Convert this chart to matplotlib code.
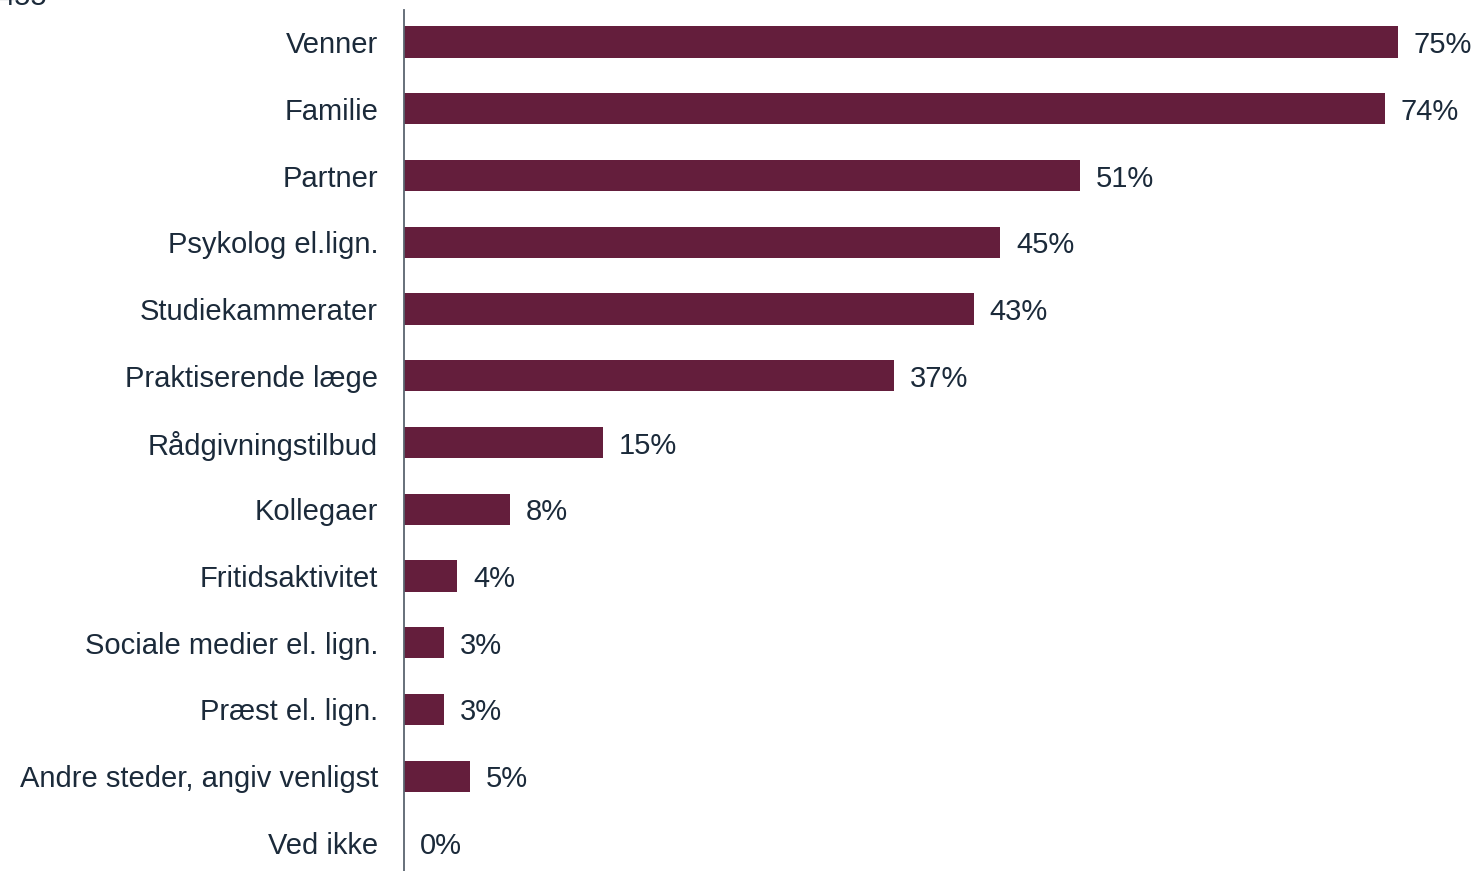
import numpy as np
import matplotlib.pyplot as plt

# data
categories = ["Venner", "Familie", "Partner", "Psykolog el.lign.", "Studiekammerater",
              "Praktiserende læge", "Rådgivningstilbud", "Kollegaer", "Fritidsaktivitet",
              "Sociale medier el. lign.", "Præst el. lign.", "Andre steder, angiv venligst",
              "Ved ikke"]
values = [75, 74, 51, 45, 43, 37, 15, 8, 4, 3, 3, 5, 0]
n_label = "455"

bar_color = "#641e3c"
text_color = "#1b2a3a"

plt.rcParams['font.family'] = ['Liberation Sans', 'DejaVu Sans']

fig = plt.figure(figsize=(14.76, 8.71), dpi=100)
ax = fig.add_axes([404 / 1476, 0.0, 1 - 404 / 1476, 861 / 871])

y = np.arange(len(categories))
ax.barh(y, values, height=0.47, color=bar_color)

# value labels just right of each bar
for yi, v in zip(y, values):
    ax.annotate(f"{v}%", (v, yi), xytext=(11.5, 0), textcoords="offset points",
                va="center_baseline", ha="left", fontsize=21, color=text_color)

ax.set_xlim(0, 80.9)
ax.set_ylim(len(categories) - 0.58, -0.48)
ax.set_yticks(y)
ax.set_yticklabels(categories, fontsize=21, color=text_color)
ax.tick_params(axis="y", length=0, pad=18.7)
ax.set_xticks([])

for side in ["top", "right", "bottom"]:
    ax.spines[side].set_visible(False)
ax.spines["left"].set_color("#5a6470")
ax.spines["left"].set_linewidth(1.3)

# sample size, partly cut off at the top edge as in the reference
fig.text(-0.001, 1 - 5 / 871, n_label, fontsize=21, color=text_color,
         ha="left", va="baseline")

fig.savefig("out.png", dpi=100)
